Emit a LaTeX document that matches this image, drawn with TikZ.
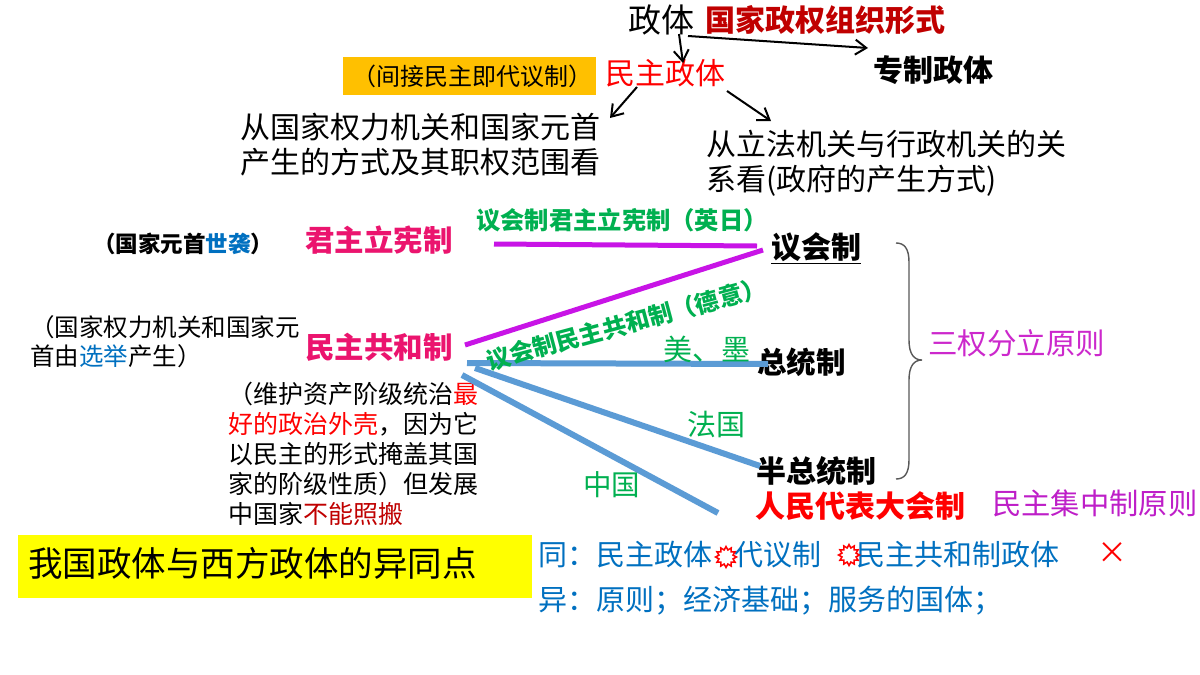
\documentclass[tikz,border=0pt]{standalone}
\usepackage{fontspec}
\usetikzlibrary{arrows.meta,shapes.geometric}
\setmainfont{Noto Sans CJK SC}
\definecolor{dred}{RGB}{192,0,0}
\definecolor{pred}{RGB}{255,0,0}
\definecolor{rosered}{RGB}{235,20,110}
\definecolor{lgreen}{RGB}{0,176,80}
\definecolor{tblue}{RGB}{0,112,192}
\definecolor{lblue}{RGB}{91,155,213}
\definecolor{violine}{RGB}{200,20,230}
\definecolor{pmag}{RGB}{204,40,204}
\definecolor{pmag2}{RGB}{190,30,200}
\definecolor{gold}{RGB}{255,192,0}
\definecolor{yel}{RGB}{255,255,0}
\newcommand{\fsz}[2]{\fontsize{#1}{#2}\selectfont}
\begin{document}
\begin{tikzpicture}[x=1pt,y=-1pt,
  txt/.style={inner sep=0pt, anchor=west},
  arr/.style={-{Straight Barb[length=11pt,width=15pt,line width=2pt]}, line width=2pt, black},
  vline/.style={line width=5pt, violine},
  bline/.style={line width=6pt, lblue},
  sun/.style={star, star points=12, star point ratio=1.45, minimum size=21pt, inner sep=0pt, draw=pred, fill=white, line width=1.5pt}
]
\useasboundingbox[fill=white] (0,0) rectangle (1200,675);

% top
\node[txt, font=\fsz{33}{36}] (zt) at (628,20) {政体};
\node[txt, font=\fsz{30}{34}\bfseries, text=dred] (def) at (705,20) {国家政权组织形式};
\fill[gold] (343,57) rectangle (596,95);
\node[txt, font=\fsz{24}{28}] (jj) at (352,76) {（间接民主即代议制）};
\node[txt, font=\fsz{30}{34}, text=pred] (mz) at (605,73) {民主政体};
\node[txt, font=\fsz{30}{34}\bfseries] (zz) at (873,70) {专制政体};
\coordinate (a1s) at (679,34);
\coordinate (a1e) at (683,63);
\coordinate (a2s) at (688,36);
\coordinate (a2e) at (868,48);
\draw[arr] (a1s) -- (a1e);
\draw[arr] (a2s) -- (a2e);
\coordinate (a3s) at (637,87);
\coordinate (a3e) at (610,118);
\coordinate (a4s) at (727,91);
\coordinate (a4e) at (771,121);
\draw[arr] (a3s) -- (a3e);
\draw[arr] (a4s) -- (a4e);
\node[inner sep=0pt, anchor=north west, align=left, font=\fsz{30}{35}] (v1) at (240,113) {从国家权力机关和国家元首\\产生的方式及其职权范围看};
\node[inner sep=0pt, anchor=north west, align=left, font=\fsz{30}{35}] (v2) at (706,130) {从立法机关与行政机关的关\\系看(政府的产生方式)};

% left column
\node[txt, font=\fsz{22.5}{26}\bfseries] (sx) at (93,244) {（国家元首\textcolor{tblue}{世袭}）};
\node[txt, font=\fsz{29.5}{34}\bfseries, text=rosered] (jz) at (305,240) {君主立宪制};
\node[inner sep=0pt, anchor=north west, align=left, font=\fsz{24.5}{29}] (xj) at (30,315) {（国家权力机关和国家元\\首由\textcolor{tblue}{选举}产生）};
\node[txt, font=\fsz{29.5}{34}\bfseries, text=rosered] (mg) at (305,347) {民主共和制};
\node[inner sep=0pt, anchor=north west, align=left, font=\fsz{25}{30}] (wh) at (228,382) {（维护资产阶级统治\textcolor{pred}{最}\\\textcolor{pred}{好的政治外壳}，因为它\\以民主的形式掩盖其国\\家的阶级性质）但发展\\中国家\textcolor{dred}{不能照搬}};

% right systems
\node[txt, font=\fsz{30}{34}\bfseries] (yh) at (771,248) {\underline{议会制}};
\node[txt, font=\fsz{29.5}{34}\bfseries] (zt2) at (757,362) {总统制};
\node[txt, font=\fsz{30}{34}\bfseries] (bz) at (756,471) {半总统制};
\node[txt, font=\fsz{30}{34}\bfseries, text=pred] (rd) at (755,506) {人民代表大会制};
\node[txt, font=\fsz{29.3}{34}, text=pmag2] (jzz) at (992,503) {民主集中制原则};
\node[txt, font=\fsz{29.5}{34}, text=pmag] (sq) at (928,343) {三权分立原则};

% connecting lines
\coordinate (l1s) at (494,244);
\coordinate (l1e) at (757,246);
\coordinate (l2s) at (465,345);
\coordinate (l2e) at (763,250);
\draw[vline] (l1s) -- (l1e);
\draw[vline] (l2s) -- (l2e);
\coordinate (b1s) at (467,363);
\coordinate (b1e) at (768,364);
\coordinate (b2s) at (475,368);
\coordinate (b2e) at (760,466);
\coordinate (b3s) at (462,375);
\coordinate (b3e) at (718,513);
\draw[bline] (b1s) -- (b1e);
\draw[bline] (b2s) -- (b2e);
\draw[bline] (b3s) -- (b3e);

% line labels
\node[txt, font=\fsz{24.3}{28}\bfseries, text=lgreen] (l1) at (476,220) {议会制君主立宪制（英日）};
\node[inner sep=0pt, font=\fsz{24}{28}\bfseries, text=lgreen, rotate=15] (l2) at (626,324) {议会制民主共和制（德意）};
\node[txt, font=\fsz{29}{34}, text=lgreen] (mm) at (663,349) {美、墨};
\node[txt, font=\fsz{29}{34}, text=lgreen] (fg) at (687,424) {法国};
\node[txt, font=\fsz{28.5}{34}, text=lgreen] (zg) at (583,485) {中国};

% brace
\draw[line width=1.4pt, black!65] (896,243) .. controls (904,243) and (909,248) .. (909,262)
  -- (909,340) .. controls (909,354) and (914,360) .. (922,360)
  .. controls (914,360) and (909,366) .. (909,380)
  -- (909,460) .. controls (909,474) and (904,479) .. (896,479);

% bottom
\fill[yel] (18,535) rectangle (532,598);
\node[txt, font=\fsz{34.5}{38}] (yt) at (28,563) {我国政体与西方政体的异同点};
\node[txt, font=\fsz{29}{34}, text=tblue] (t1) at (538,555) {同：民主政体};
\node[txt, font=\fsz{29}{34}, text=tblue] (t2) at (734,555) {代议制};
\node[txt, font=\fsz{29}{34}, text=tblue] (t3) at (856,555) {民主共和制政体};
\node[sun] (s1) at (726,557) {};
\node[sun] (s2) at (849,555) {};
\node[inner sep=0pt, font=\fsz{30}{34}, text=pred] (xx) at (1112,553) {×};
\node[txt, font=\fsz{29}{34}, text=tblue] (t4) at (538,601) {异：原则；经济基础；服务的国体；};
\end{tikzpicture}
\end{document}
